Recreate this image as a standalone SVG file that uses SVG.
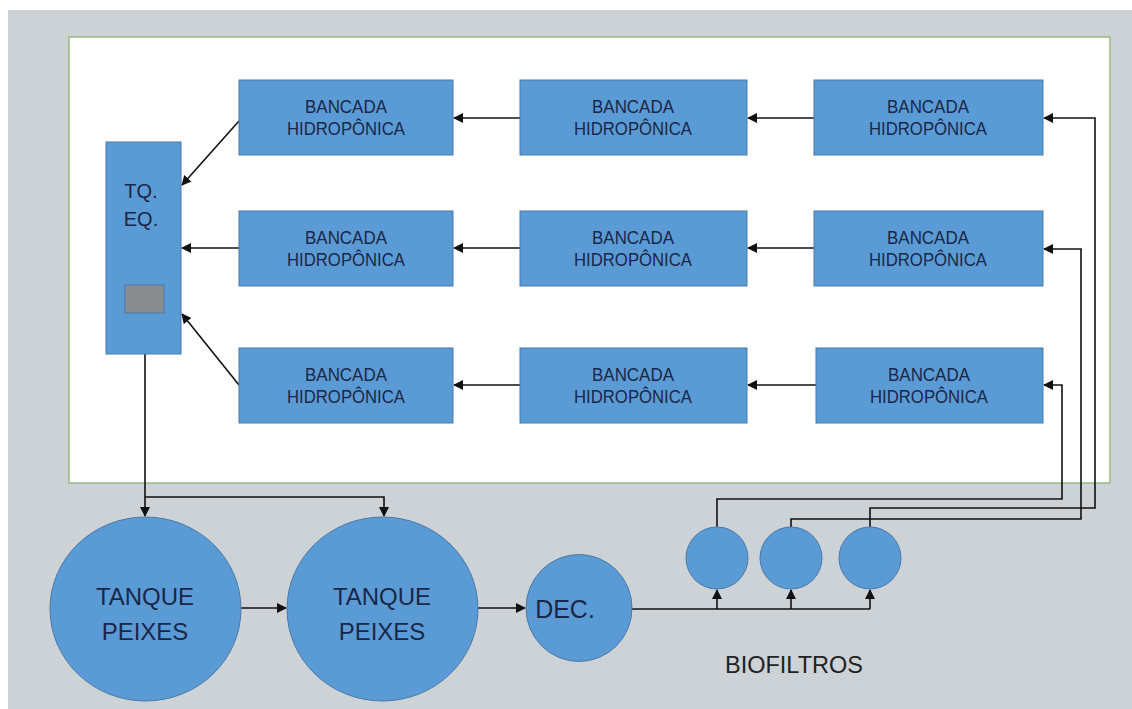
<svg xmlns="http://www.w3.org/2000/svg" width="1132" height="709" viewBox="0 0 1132 709">
<defs>
<style>
.bg{fill:#cdd2d6}
.panel{fill:#ffffff;stroke:#9ab87f;stroke-width:1.5}
.box{fill:#5b9bd5;stroke:#4a7aa8;stroke-width:1}
.lbl{font-family:"Liberation Sans",Arial,sans-serif;fill:#1a2746;text-anchor:middle}
.b{font-size:19px}
.c{fill:none;stroke:#111;stroke-width:1.6}
</style>
<marker id="ah" viewBox="0 0 10 10" refX="9" refY="5" markerWidth="10" markerHeight="10" markerUnits="userSpaceOnUse" orient="auto">
<path d="M0,0 L10,5 L0,10 z" fill="#111"/>
</marker>
</defs>
<rect x="0" y="0" width="1132" height="709" fill="#ffffff"/>
<rect class="bg" x="8" y="10" width="1124" height="699"/>
<rect class="panel" x="69" y="37" width="1041" height="446"/>

<g id="connectors">
<line class="c" x1="520" y1="118" x2="454" y2="118" marker-end="url(#ah)"/>
<line class="c" x1="814" y1="118" x2="748" y2="118" marker-end="url(#ah)"/>
<line class="c" x1="520" y1="248" x2="454" y2="248" marker-end="url(#ah)"/>
<line class="c" x1="814" y1="248" x2="748" y2="248" marker-end="url(#ah)"/>
<line class="c" x1="520" y1="385" x2="454" y2="385" marker-end="url(#ah)"/>
<line class="c" x1="816" y1="385" x2="748" y2="385" marker-end="url(#ah)"/>
<line class="c" x1="239" y1="121" x2="182" y2="185" marker-end="url(#ah)"/>
<line class="c" x1="239" y1="248" x2="182" y2="248" marker-end="url(#ah)"/>
<line class="c" x1="239" y1="385" x2="182" y2="314" marker-end="url(#ah)"/>
<polyline class="c" points="145,354 145,516" marker-end="url(#ah)"/>
<polyline class="c" points="145,497 384,497 384,516" marker-end="url(#ah)"/>
<line class="c" x1="241" y1="608" x2="286" y2="608" marker-end="url(#ah)"/>
<line class="c" x1="478" y1="608" x2="525" y2="608" marker-end="url(#ah)"/>
<polyline class="c" points="632,609 870,609"/>
<line class="c" x1="717" y1="609" x2="717" y2="590" marker-end="url(#ah)"/>
<line class="c" x1="791" y1="609" x2="791" y2="590" marker-end="url(#ah)"/>
<line class="c" x1="870" y1="609" x2="870" y2="590" marker-end="url(#ah)"/>
<polyline class="c" points="717,527 717,499 1062,499 1062,385 1044,385" marker-end="url(#ah)"/>
<polyline class="c" points="791,527 791,519 1081,519 1081,249 1044,249" marker-end="url(#ah)"/>
<polyline class="c" points="870,527 870,508 1095,508 1095,118 1044,118" marker-end="url(#ah)"/>
</g>

<g id="tq">
<rect class="box" x="106" y="142" width="75" height="212"/>
<rect x="125" y="285" width="39" height="28" fill="#8a8b8d" stroke="#4a7aa8" stroke-width="1"/>
<text class="lbl" x="141" y="198" font-size="20">TQ.</text>
<text class="lbl" x="141" y="226" font-size="20">EQ.</text>
</g>

<g id="b11"><rect class="box" x="239" y="80" width="214" height="75"/><text class="lbl b" x="346" y="113" textLength="82" lengthAdjust="spacingAndGlyphs">BANCADA</text><text class="lbl b" x="346" y="135" textLength="118" lengthAdjust="spacingAndGlyphs">HIDROPÔNICA</text></g>
<g id="b12"><rect class="box" x="520" y="80" width="227" height="75"/><text class="lbl b" x="633" y="113" textLength="82" lengthAdjust="spacingAndGlyphs">BANCADA</text><text class="lbl b" x="633" y="135" textLength="118" lengthAdjust="spacingAndGlyphs">HIDROPÔNICA</text></g>
<g id="b13"><rect class="box" x="814" y="80" width="229" height="75"/><text class="lbl b" x="928" y="113" textLength="82" lengthAdjust="spacingAndGlyphs">BANCADA</text><text class="lbl b" x="928" y="135" textLength="118" lengthAdjust="spacingAndGlyphs">HIDROPÔNICA</text></g>
<g id="b21"><rect class="box" x="239" y="211" width="214" height="75"/><text class="lbl b" x="346" y="244" textLength="82" lengthAdjust="spacingAndGlyphs">BANCADA</text><text class="lbl b" x="346" y="266" textLength="118" lengthAdjust="spacingAndGlyphs">HIDROPÔNICA</text></g>
<g id="b22"><rect class="box" x="520" y="211" width="227" height="75"/><text class="lbl b" x="633" y="244" textLength="82" lengthAdjust="spacingAndGlyphs">BANCADA</text><text class="lbl b" x="633" y="266" textLength="118" lengthAdjust="spacingAndGlyphs">HIDROPÔNICA</text></g>
<g id="b23"><rect class="box" x="814" y="211" width="229" height="75"/><text class="lbl b" x="928" y="244" textLength="82" lengthAdjust="spacingAndGlyphs">BANCADA</text><text class="lbl b" x="928" y="266" textLength="118" lengthAdjust="spacingAndGlyphs">HIDROPÔNICA</text></g>
<g id="b31"><rect class="box" x="239" y="348" width="214" height="75"/><text class="lbl b" x="346" y="381" textLength="82" lengthAdjust="spacingAndGlyphs">BANCADA</text><text class="lbl b" x="346" y="403" textLength="118" lengthAdjust="spacingAndGlyphs">HIDROPÔNICA</text></g>
<g id="b32"><rect class="box" x="520" y="348" width="227" height="75"/><text class="lbl b" x="633" y="381" textLength="82" lengthAdjust="spacingAndGlyphs">BANCADA</text><text class="lbl b" x="633" y="403" textLength="118" lengthAdjust="spacingAndGlyphs">HIDROPÔNICA</text></g>
<g id="b33"><rect class="box" x="816" y="348" width="227" height="75"/><text class="lbl b" x="929" y="381" textLength="82" lengthAdjust="spacingAndGlyphs">BANCADA</text><text class="lbl b" x="929" y="403" textLength="118" lengthAdjust="spacingAndGlyphs">HIDROPÔNICA</text></g>

<g id="tanque1"><ellipse class="box" cx="145.5" cy="609" rx="95.5" ry="92"/><text class="lbl" x="145" y="605" font-size="24">TANQUE</text><text class="lbl" x="145" y="640" font-size="24">PEIXES</text></g>
<g id="tanque2"><ellipse class="box" cx="382.5" cy="609" rx="95.5" ry="92"/><text class="lbl" x="382" y="605" font-size="24">TANQUE</text><text class="lbl" x="382" y="640" font-size="24">PEIXES</text></g>
<g id="dec"><ellipse class="box" cx="579" cy="608" rx="53" ry="53.5"/><text class="lbl" x="565" y="618" font-size="25">DEC.</text></g>
<g id="bio1"><circle class="box" cx="717" cy="558" r="31"/></g>
<g id="bio2"><circle class="box" cx="791" cy="558" r="31"/></g>
<g id="bio3"><circle class="box" cx="870" cy="558" r="31"/></g>
<text x="794" y="673" font-family="Liberation Sans, Arial, sans-serif" font-size="23.5" fill="#222" text-anchor="middle">BIOFILTROS</text>
</svg>
